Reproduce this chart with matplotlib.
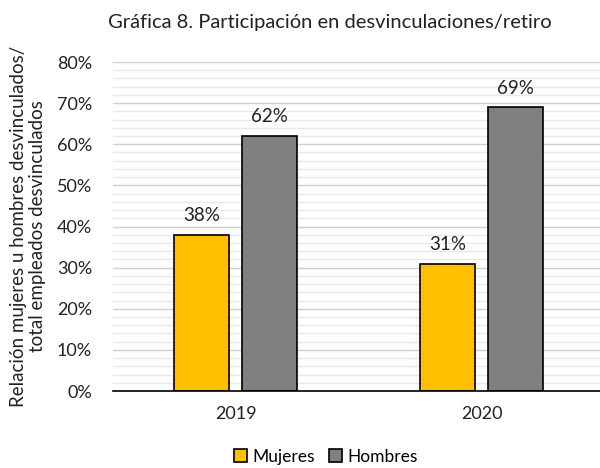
import matplotlib
matplotlib.use("Agg")
import matplotlib.pyplot as plt
import numpy as np
from matplotlib.ticker import MultipleLocator, FuncFormatter

plt.rcParams['font.family'] = ['Lato', 'DejaVu Sans']

years = ["2019", "2020"]
mujeres = [38, 31]
hombres = [62, 69]
series_names = ["Mujeres", "Hombres"]
colors = ["#FFC000", "#808080"]

fig = plt.figure(figsize=(6, 4.68), dpi=100)
ax = fig.add_axes([0.188, 0.1645, 0.812, 0.703])

x = np.arange(len(years))
w = 0.224
off = 0.138
b1 = ax.bar(x - off, mujeres, w, color=colors[0], edgecolor="black", linewidth=1.2, label=series_names[0], zorder=3)
b2 = ax.bar(x + off, hombres, w, color=colors[1], edgecolor="black", linewidth=1.2, label=series_names[1], zorder=3)

for bars, vals in ((b1, mujeres), (b2, hombres)):
    for r, v in zip(bars, vals):
        ax.text(r.get_x() + r.get_width() / 2, v + 2.6, f"{v}%", ha="center", va="bottom", fontsize=13.5, color="#222222")

ax.set_ylim(0, 80)
ax.set_xlim(-0.5, 1.48)
ax.yaxis.set_major_locator(MultipleLocator(10))
ax.yaxis.set_minor_locator(MultipleLocator(2))
ax.yaxis.set_major_formatter(FuncFormatter(lambda v, p: f"{v:.0f}%"))
ax.grid(axis="y", which="major", color="#D0D0D0", linewidth=1.0, zorder=0)
ax.grid(axis="y", which="minor", color="#E8E8E8", linewidth=1.0, zorder=0)
ax.set_xticks(x)
ax.set_xticklabels(years)
ax.tick_params(axis="both", which="both", length=0, labelsize=13, colors="#222222")
ax.tick_params(axis="x", pad=11)
ax.tick_params(axis="y", pad=15)
for s in ["left", "right", "top"]:
    ax.spines[s].set_visible(False)
ax.spines["bottom"].set_color("black")
ax.spines["bottom"].set_linewidth(1.2)
ax.spines["bottom"].set_zorder(4)

ax.set_ylabel("Relación mujeres u hombres desvinculados/\ntotal empleados desvinculados", fontsize=13.5, color="#222222", labelpad=8, linespacing=1.1)

fig.text(0.55, 0.952, "Gráfica 8. Participación en desvinculaciones/retiro", ha="center", va="center", fontsize=14.5, color="#222222")

ax.legend(handles=[b1, b2], labels=series_names, loc="center", bbox_to_anchor=(0.437, -0.2),
          ncol=2, frameon=False, fontsize=12.5, handlelength=0.75, handleheight=0.75, handletextpad=0.3, columnspacing=0.8)

fig.savefig("out.png", dpi=100)
